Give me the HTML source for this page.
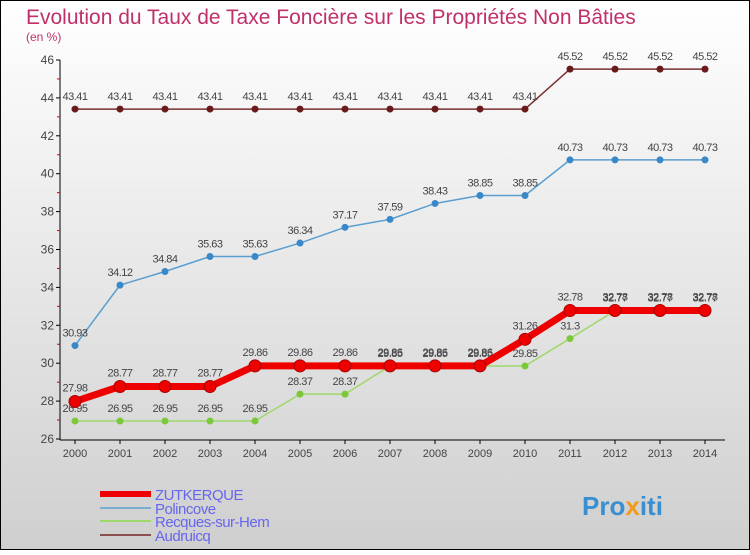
<!DOCTYPE html>
<html><head><meta charset="utf-8"><style>
body{margin:0}
svg text{font-family:"Liberation Sans",sans-serif}
</style></head><body>
<svg width="750" height="550" viewBox="0 0 750 550">
<defs><linearGradient id="bg" x1="0" y1="0" x2="0" y2="1"><stop offset="0" stop-color="#ffffff"/><stop offset="1" stop-color="#cfcfcf"/></linearGradient></defs>
<rect x="0.5" y="0.5" width="749" height="549" fill="url(#bg)" stroke="#000"/>
<text x="26" y="24" font-size="21" fill="#c0306a">Evolution du Taux de Taxe Foncière sur les Propriétés Non Bâties</text>
<text x="26" y="41" font-size="12" fill="#c0306a">(en %)</text>
<g id="axes"></g><g id="series"></g><g id="legend"></g>
<text x="582" y="515" font-size="26" font-weight="bold" fill="#3a8fd0">Pro<tspan fill="#f29a1a">x</tspan>iti</text>
</svg>
<script>
const years=[2000,2001,2002,2003,2004,2005,2006,2007,2008,2009,2010,2011,2012,2013,2014];
const yTicks=[26,28,30,32,34,36,38,40,42,44,46];
const zutkerque=[27.98,28.77,28.77,28.77,29.86,29.86,29.86,29.86,29.86,29.86,31.26,32.78,32.78,32.78,32.78];
const polincove=[30.93,34.12,34.84,35.63,35.63,36.34,37.17,37.59,38.43,38.85,38.85,40.73,40.73,40.73,40.73];
const recques=[26.95,26.95,26.95,26.95,26.95,28.37,28.37,29.85,29.85,29.85,29.85,31.3,32.77,32.77,32.77];
const audruicq=[43.41,43.41,43.41,43.41,43.41,43.41,43.41,43.41,43.41,43.41,43.41,45.52,45.52,45.52,45.52];
const NS="http://www.w3.org/2000/svg";
const X=i=>75+i*45, Y=v=>439-(v-26)*(379/20);
function mk(t,a,p){const e=document.createElementNS(NS,t);for(const k in a)e.setAttribute(k,a[k]);p.appendChild(e);return e;}
const ax=document.getElementById('axes');
let l=mk('line',{x1:60,y1:Y(46),x2:60,y2:440,stroke:'#000'},ax);

l=mk('line',{x1:60,y1:440,x2:725,y2:440,stroke:'#000'},ax);

yTicks.forEach(v=>{mk('line',{x1:56,x2:60,y1:Y(v),y2:Y(v),stroke:'#000'},ax);
 if(v<46)mk('line',{x1:57,x2:60,y1:Y(v+1),y2:Y(v+1),stroke:'#d00'},ax);
 const t=mk('text',{x:54,y:Y(v)+4,'font-size':12,fill:'#444','text-anchor':'end'},ax);t.textContent=v;
 });
years.forEach((y,i)=>{mk('line',{x1:X(i),x2:X(i),y1:440,y2:444,stroke:'#000'},ax);
 const t=mk('text',{x:X(i),y:457,'font-size':11,fill:'#444','text-anchor':'middle'},ax);t.textContent=y;
 });
const sg=document.getElementById('series');
function series(name,data,color,w,r,fillc,labelOff){
 const g=mk('g',{},sg);
 const p=mk('polyline',{points:data.map((v,i)=>X(i)+','+Y(v)).join(' '),fill:'none',stroke:color,'stroke-width':w,'stroke-linejoin':'round'},g);
 
 data.forEach((v,i)=>{const c=mk('circle',{cx:X(i),cy:Y(v),r:r,fill:fillc,stroke:color==='#e00'?'#a00':'none'},g);
  
  const t=mk('text',{x:X(i),y:Y(v)+labelOff,'font-size':11,fill:'#444','text-anchor':'middle','letter-spacing':'-0.5'},g);t.textContent=v;
  });
}
series('audruicq',audruicq,'#7a3030',1.5,3.5,'#6a1a1a',-9);
series('polincove',polincove,'#5a9fd0',1.5,3.5,'#3a88c8',-9);
series('recques',recques,'#9ed86a',1.5,3.5,'#7cc83a',-9);
series('zutkerque',zutkerque,'#e00',7,6,'#e00',-10);
const lg=document.getElementById('legend');
const items=[['ZUTKERQUE','#e00',6,497],['Polincove','#7aaed0',2,511],['Recques-sur-Hem','#9ed86a',2,524],['Audruicq','#8a5050',2,538]];
items.forEach(it=>{const g=mk('g',{},lg);
 mk('line',{x1:100,x2:151,y1:it[3]-3,y2:it[3]-3,stroke:it[1],'stroke-width':it[2]},g);
 const t=mk('text',{x:155,y:it[3]+3,'font-size':15,fill:'#6666ee','letter-spacing':'-0.5'},g);t.textContent=it[0];});
</script>
</body></html>
